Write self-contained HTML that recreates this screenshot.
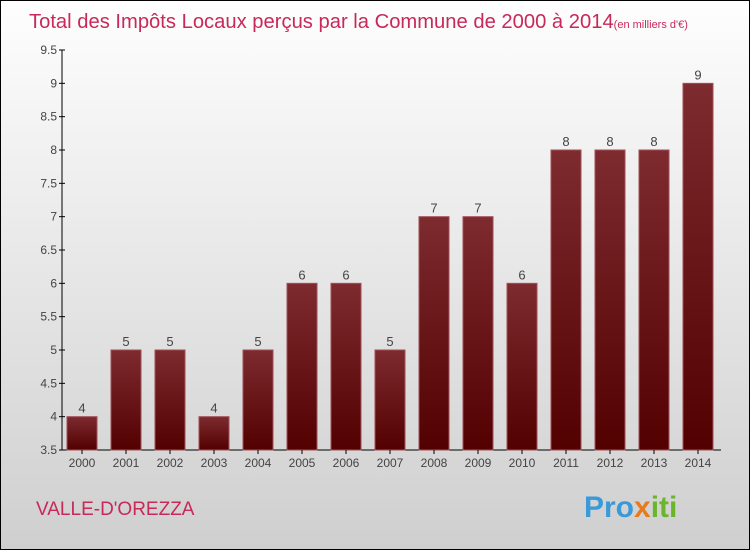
<!DOCTYPE html>
<html><head><meta charset="utf-8"><style>
body{margin:0;width:750px;height:550px;overflow:hidden;font-family:"Liberation Sans",sans-serif}
#wrap{position:absolute;left:0;top:0;width:748px;height:548px;border:1px solid #000;background:linear-gradient(#fefefe,#cfcfcf)}
</style></head><body>
<div id="wrap">
<svg id="chart" width="748" height="548">
<defs><linearGradient id="bg" x1="0" y1="0" x2="0" y2="1"><stop offset="0" stop-color="#7e2b30"/><stop offset="1" stop-color="#520000"/></linearGradient></defs>
<text x="28" y="27" font-size="20.2" fill="#c8285a">Total des Impôts Locaux perçus par la Commune de 2000 à 2014<tspan font-size="11">(en milliers d'€)</tspan></text>
<text x="35" y="514" font-size="19" fill="#c8285a">VALLE-D'OREZZA</text>
<text x="583" y="516" font-size="30" font-weight="bold" fill="#3a9ad9">Pro<tspan fill="#e87a1e">x</tspan><tspan fill="#6bb52b">iti</tspan></text>
<g id="g"></g>
</svg></div>
<script>
const years=["2000","2001","2002","2003","2004","2005","2006","2007","2008","2009","2010","2011","2012","2013","2014"];
const values=[4,5,5,4,5,6,6,5,7,7,6,8,8,8,9];
const ticks=[3.5,4,4.5,5,5.5,6,6.5,7,7.5,8,8.5,9,9.5];
const ns="http://www.w3.org/2000/svg",g=document.getElementById('g');
const y=v=>449-(v-3.5)*(400/6), x=i=>81+i*44;
function mk(t,a,txt){const e=document.createElementNS(ns,t);for(const k in a)e.setAttribute(k,a[k]);if(txt!=null)e.textContent=txt;g.appendChild(e);return e;}
let e=mk('line',{x1:61,y1:49,x2:61,y2:449,stroke:'#000'});

e=mk('line',{x1:61,y1:449,x2:720,y2:449,stroke:'#000'});

ticks.forEach(t=>{mk('line',{x1:58,x2:64,y1:y(t),y2:y(t),stroke:'#000'});
e=mk('text',{x:56,y:y(t)+4,'text-anchor':'end','font-size':12,fill:'#444'},String(t));
});
years.forEach((yr,i)=>{const v=values[i];
e=mk('rect',{x:x(i)-15,y:y(v),width:30,height:449-y(v),fill:'url(#bg)',stroke:'#a05058','stroke-width':1});

e=mk('text',{x:x(i),y:y(v)-4,'text-anchor':'middle','font-size':13,fill:'#444'},String(v));

mk('line',{x1:x(i),x2:x(i),y1:449,y2:453,stroke:'#000'});
e=mk('text',{x:x(i),y:466,'text-anchor':'middle','font-size':12,fill:'#444'},yr);
});
</script></body></html>
